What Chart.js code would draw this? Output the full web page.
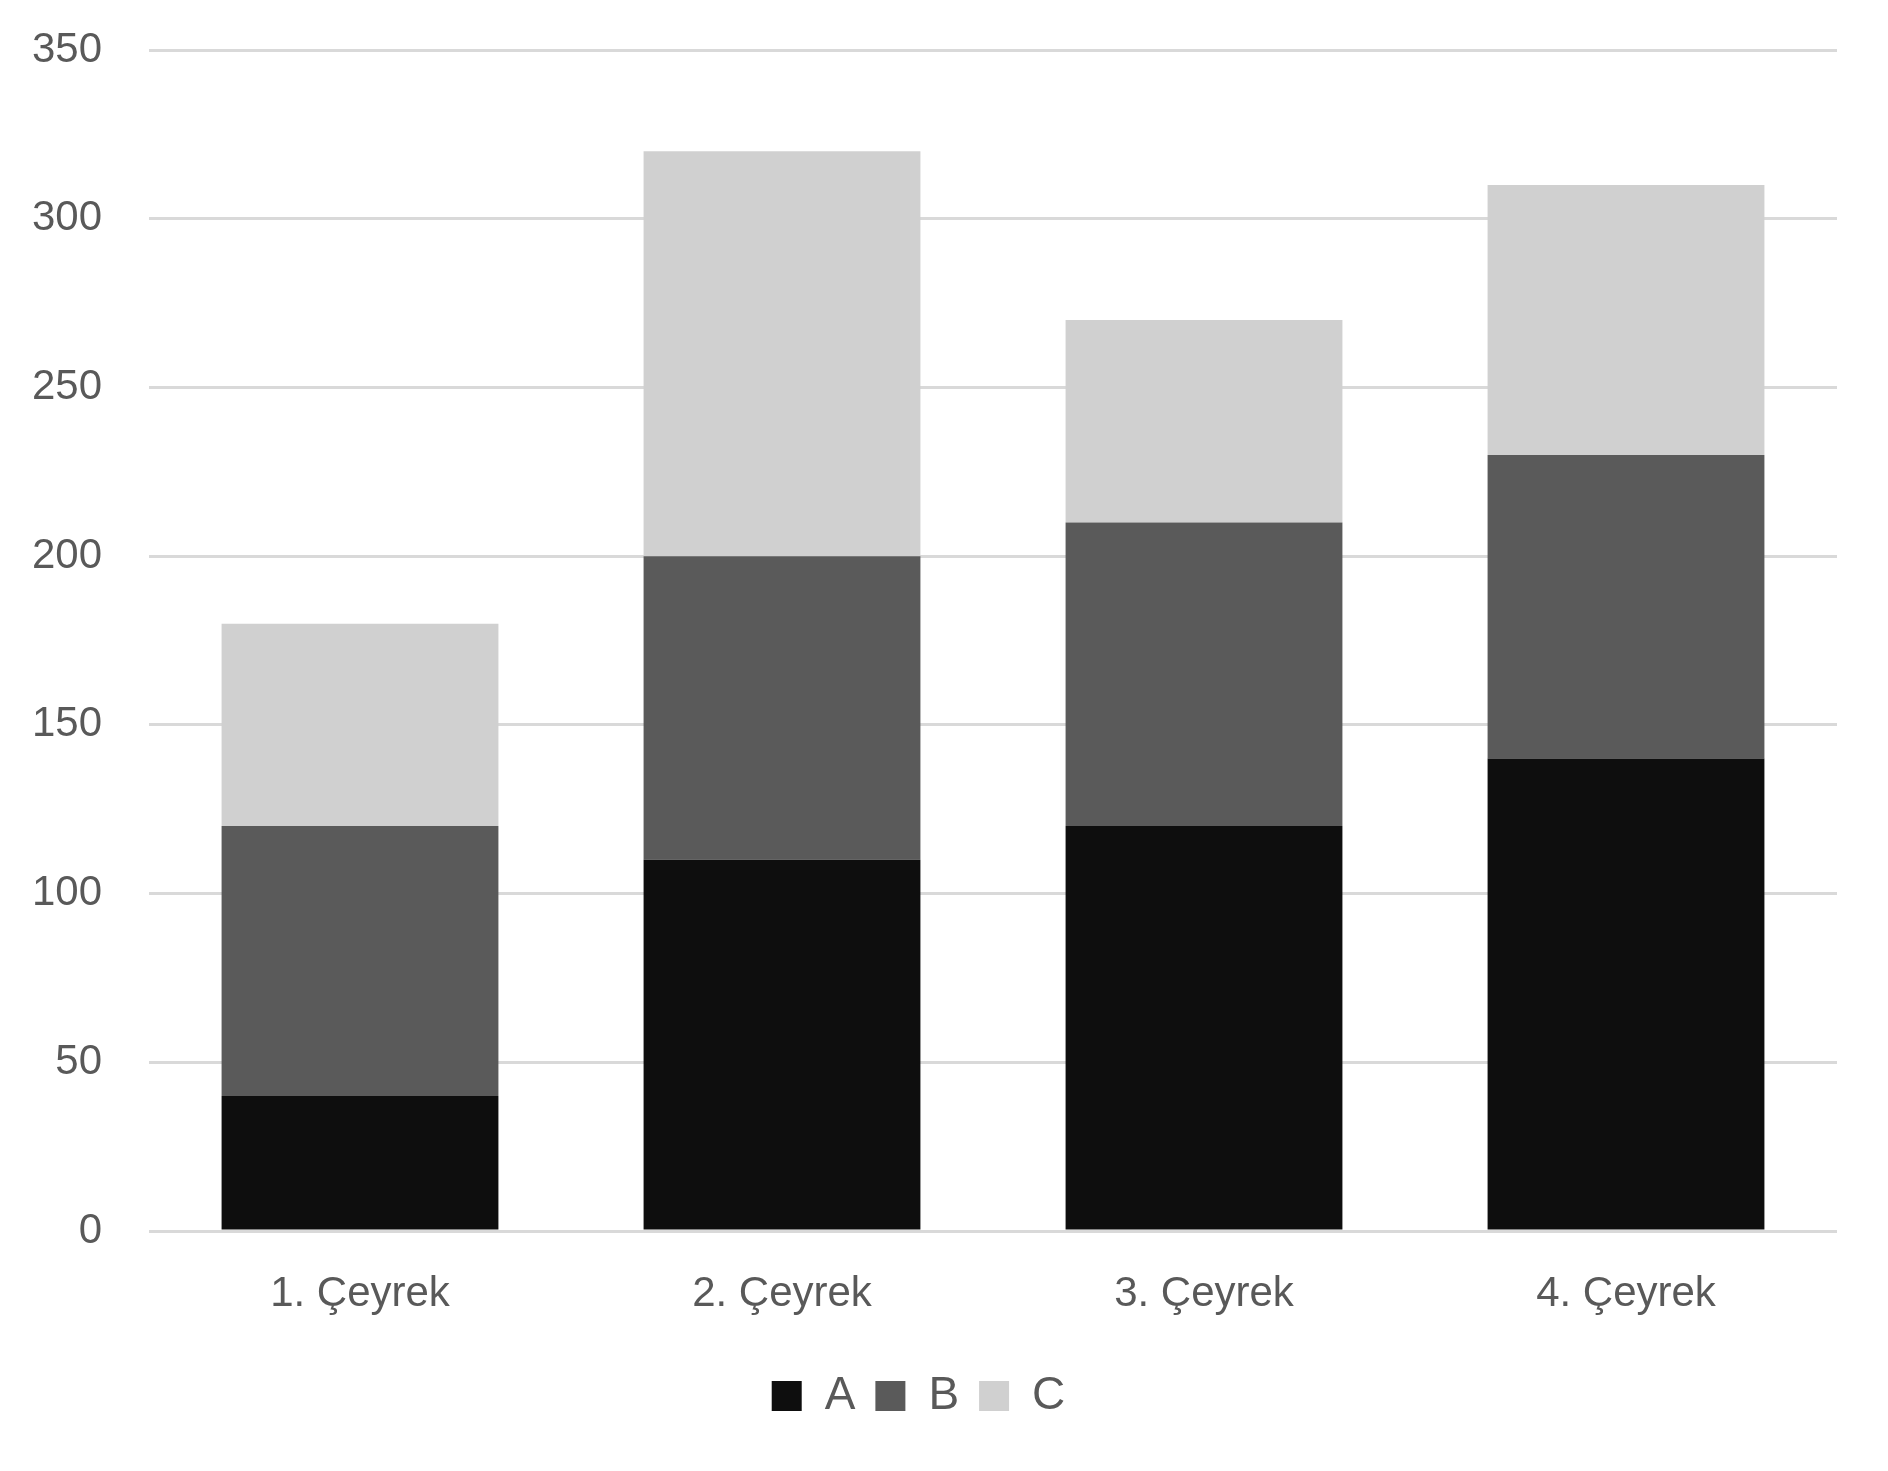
<!DOCTYPE html>
<html>
<head>
<meta charset="utf-8">
<script src="https://cdn.jsdelivr.net/npm/chart.js@4.4.0/dist/chart.umd.min.js"></script>
<style>
  html, body { margin: 0; padding: 0; background: #fff; }
  #wrap { width: 1888px; height: 1471px; }
</style>
</head>
<body>
<div id="wrap"><canvas id="myChart" width="1888" height="1471"></canvas></div>
<script>
const categories = ['1. Çeyrek', '2. Çeyrek', '3. Çeyrek', '4. Çeyrek'];
const seriesA = [40, 110, 120, 140];
const seriesB = [80, 90, 90, 90];
const seriesC = [60, 120, 60, 80];
const yTicks = [0, 50, 100, 150, 200, 250, 300, 350];

const textColor = '#595959';
const fontFamily = '"Liberation Sans", Arial, sans-serif';

const ctx = document.getElementById('myChart').getContext('2d');
new Chart(ctx, {
    type: 'bar',
    data: {
        labels: categories,
        datasets: [
            { label: 'A', data: seriesA, backgroundColor: '#0e0e0e' },
            { label: 'B', data: seriesB, backgroundColor: '#5a5a5a' },
            { label: 'C', data: seriesC, backgroundColor: '#d0d0d0' }
        ]
    },
    options: {
        responsive: false,
        animation: false,
        layout: { padding: { top: 50, right: 51, left: 0, bottom: 42 } },
        datasets: { bar: { categoryPercentage: 0.656, barPercentage: 1.0 } },
        scales: {
            x: {
                stacked: true,
                grid: { display: false },
                border: { display: false },
                afterFit: axis => { axis.height = 122; },
                ticks: { color: textColor, font: { family: fontFamily, size: 42 }, padding: 30 }
            },
            y: {
                stacked: true,
                min: 0,
                max: 350,
                afterBuildTicks: axis => { axis.ticks = yTicks.map(v => ({ value: v })); },
                afterFit: axis => {
                    axis.width = 149;
                    // tick padding is meant horizontally only
                    axis.paddingTop = 0;
                    axis.paddingBottom = 0;
                },
                grid: { color: '#d9d9d9', lineWidth: 3, drawTicks: false },
                border: { display: false },
                ticks: { color: textColor, font: { family: fontFamily, size: 42 }, padding: 47 }
            }
        },
        plugins: {
            legend: {
                position: 'bottom',
                labels: {
                    color: textColor,
                    font: { family: fontFamily, size: 46 },
                    boxWidth: 30,
                    boxHeight: 30,
                    padding: 20
                }
            },
            tooltip: { enabled: false }
        }
    }
});
</script>
</body>
</html>
